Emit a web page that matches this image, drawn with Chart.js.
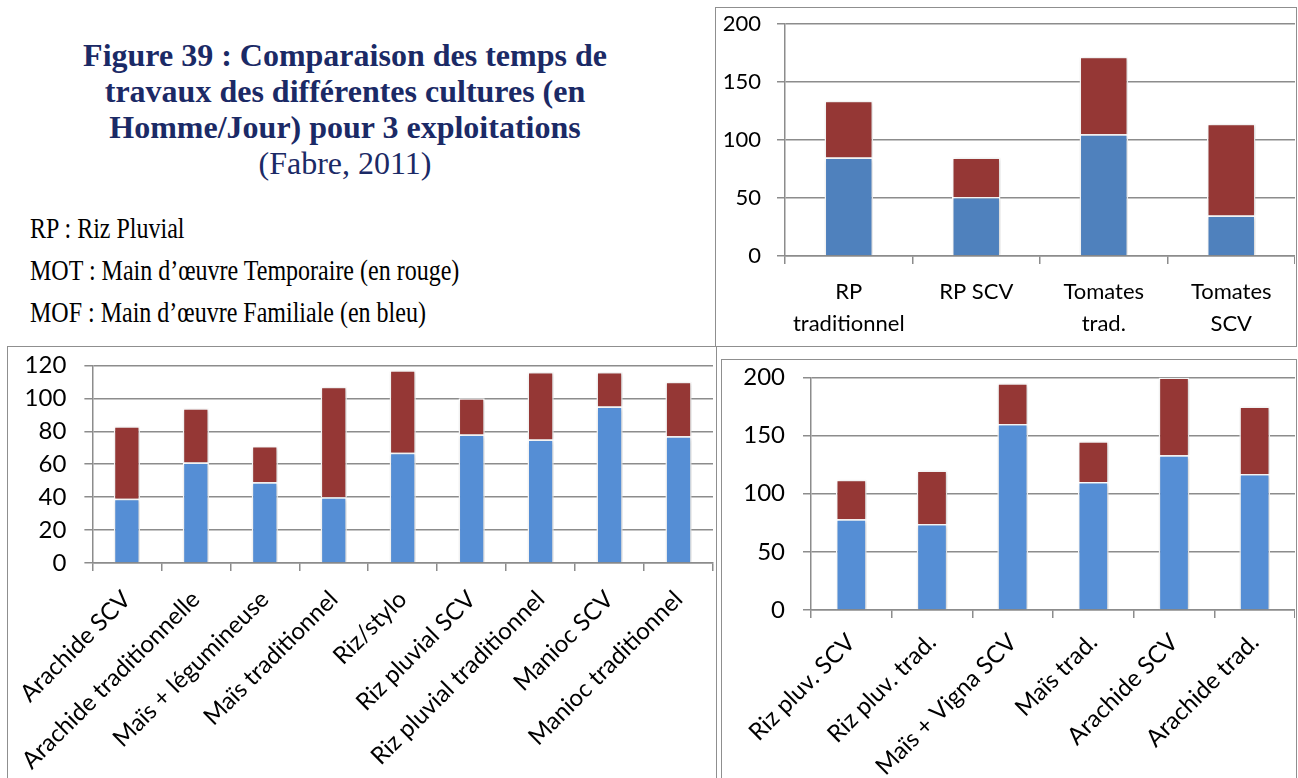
<!DOCTYPE html>
<html lang="fr">
<head>
<meta charset="utf-8">
<script src="https://cdn.jsdelivr.net/npm/chart.js@4.4.1/dist/chart.umd.min.js"></script>
<style>
  body { margin: 0; background: #fff; width: 1298px; height: 778px; overflow: hidden; position: relative; }
  .frame { position: absolute; border: 1.5px solid #8f8f8f; box-sizing: border-box; overflow: hidden; }
  .frame canvas { position: absolute; left: 0; }
  #title { position: absolute; left: 0; top: 37px; width: 690px; text-align: center;
           font-family: "Liberation Serif", serif; font-size: 32px; line-height: 36px; color: #1b2a66; }
  #title b { font-weight: bold; }
  #notes { position: absolute; left: 30px; top: 207px; font-family: "Liberation Serif", serif;
           font-size: 30px; line-height: 42px; color: #000; transform: scaleX(0.8); transform-origin: left top; white-space: nowrap; }
</style>
</head>
<body>
<div id="title">
  <b>Figure 39 : Comparaison des temps de<br>travaux des différentes cultures (en<br>Homme/Jour) pour 3 exploitations</b><br>(Fabre, 2011)
</div>
<div id="notes">
  RP : Riz Pluvial<br>
  MOT : Main d’œuvre Temporaire (en rouge)<br>
  MOF : Main d’œuvre Familiale (en bleu)
</div>

<div class="frame" style="left:715px;top:7px;width:582px;height:340px;"><canvas id="c1" width="579" height="350" style="top:-13px"></canvas></div>
<div class="frame" style="left:7px;top:346px;width:710px;height:440px;"><canvas id="c2" width="707" height="451" style="top:-14px"></canvas></div>
<div class="frame" style="left:721px;top:359px;width:576px;height:430px;"><canvas id="c3" width="573" height="442" style="top:-15px"></canvas></div>

<script>
// top right: RP / tomatoes
const topLabels = [["RP", "traditionnel"], "RP SCV", ["Tomates", "trad."], ["Tomates", "SCV"]];
const topMOF = [85, 51, 105, 35];
const topMOT = [49, 34, 67, 79];

// bottom left
const leftLabels = ["Arachide SCV", "Arachide traditionnelle", "Maïs + légumineuse", "Maïs traditionnel",
  "Riz/stylo", "Riz pluvial SCV", "Riz pluvial traditionnel", "Manioc SCV", "Manioc traditionnel"];
const leftMOF = [39, 61, 49, 40, 67, 78, 75, 95, 77];
const leftMOT = [44, 33, 22, 67, 50, 22, 41, 21, 33];

// bottom right
const rightLabels = ["Riz pluv. SCV", "Riz pluv. trad.", "Maïs + Vigna SCV", "Maïs trad.", "Arachide SCV", "Arachide trad."];
const rightMOF = [78, 74, 160, 110, 133, 117];
const rightMOT = [34, 46, 35, 35, 67, 58];

const red = "#953735";
const gridColor = "#8c8c8c";

const barShadow = {
  id: "barShadow",
  beforeDatasetsDraw(chart) {
    const ctx = chart.ctx;
    ctx.save();
    ctx.shadowColor = "rgba(0,0,0,0.22)";
    ctx.shadowBlur = 4;
    ctx.shadowOffsetX = 1;
    ctx.shadowOffsetY = 1;
  },
  afterDatasetsDraw(chart) {
    chart.ctx.restore();
  }
};

function makeChart(id, labels, mof, mot, o) {
  return new Chart(document.getElementById(id), {
    type: "bar",
    data: {
      labels: labels,
      datasets: [
        { label: "MOF", data: mof, backgroundColor: o.blue, borderColor: "#fff", borderWidth: 1.5 },
        { label: "MOT", data: mot, backgroundColor: red, borderColor: "#fff", borderWidth: 1.5 }
      ]
    },
    options: {
      responsive: false,
      animation: false,
      layout: { padding: 0 },
      datasets: { bar: { barPercentage: 0.38, categoryPercentage: 1 } },
      plugins: { legend: { display: false }, tooltip: { enabled: false } },
      scales: {
        x: {
          stacked: true,
          grid: { display: true, drawOnChartArea: false, offset: true, tickLength: 8, color: gridColor, lineWidth: 1.5 },
          border: { color: gridColor, width: 1.5 },
          ticks: { color: "#000", font: { family: "Lato", size: o.xFont, lineHeight: 1.45 },
                   autoSkip: false, maxRotation: o.rot, minRotation: o.rot, padding: o.xPad },
          afterFit: s => { s.height = o.xh; }
        },
        y: {
          stacked: true, min: 0, max: o.max,
          ticks: { stepSize: o.step, color: "#000", font: { family: "Lato", size: o.yFont }, padding: o.yPad },
          grid: { color: gridColor, lineWidth: 1.5, tickLength: 8 },
          border: { color: gridColor, width: 1.5 },
          afterFit: s => { s.width = o.yw; }
        }
      }
    },
    plugins: [barShadow]
  });
}

makeChart("c1", topLabels, topMOF, topMOT,
  { blue: "#4f81bd", max: 200, step: 50, yw: 69, xh: 89, rot: 0, xFont: 22, xPad: 12, yFont: 22, yPad: 16 });
makeChart("c2", leftLabels, leftMOF, leftMOT,
  { blue: "#558ed5", max: 120, step: 20, yw: 82, xh: 221, rot: 45, xFont: 24, xPad: 12, yFont: 24, yPad: 18 });
makeChart("c3", rightLabels, rightMOF, rightMOT,
  { blue: "#558ed5", max: 200, step: 50, yw: 89, xh: 177, rot: 45, xFont: 24, xPad: 8, yFont: 24, yPad: 18 });
</script>
</body>
</html>
